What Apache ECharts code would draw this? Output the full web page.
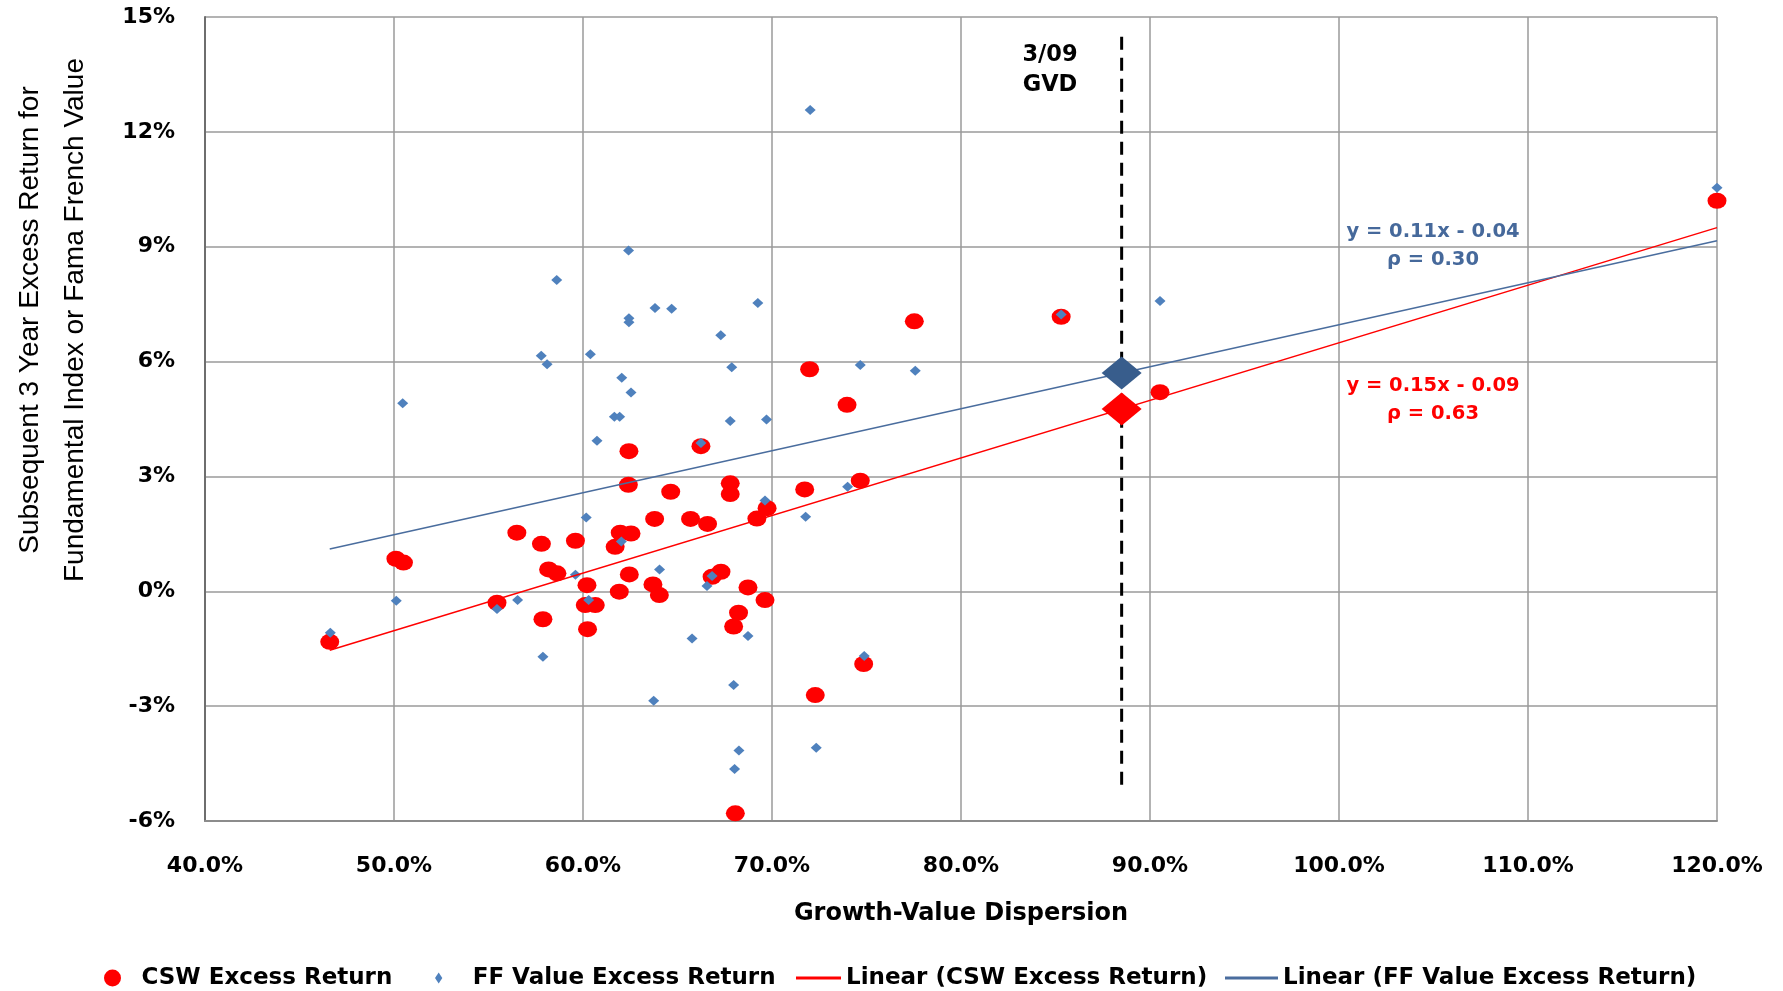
<!DOCTYPE html>
<html>
<head>
<meta charset="utf-8">
<script src="https://cdn.jsdelivr.net/npm/echarts@6/dist/echarts.min.js"></script>
<style>
  html, body { margin: 0; padding: 0; background: #ffffff; }
  #chart { width: 1783px; height: 991px; }
</style>
</head>
<body>
<div id="chart"></div>
<script>
// Growth-value dispersion (%) vs. subsequent 3-year excess return (%)
const cswPoints = [
  [46.6, -1.32], [50.1, 0.85], [50.5, 0.75], [55.45, -0.30], [56.5, 1.53],
  [57.8, 1.24], [57.88, -0.73], [58.18, 0.57], [58.62, 0.47], [59.6, 1.32],
  [60.21, 0.16], [60.12, -0.36], [60.65, -0.36], [60.24, -0.99], [61.7, 1.16],
  [61.97, 1.53], [62.54, 1.51], [61.92, -0.01], [62.45, 0.44], [62.43, 3.66],
  [62.4, 2.78], [63.7, 0.18], [64.04, -0.10], [63.79, 1.89], [64.64, 2.60],
  [65.69, 1.89], [66.24, 3.79], [66.59, 1.76], [66.83, 0.38], [67.30, 0.51],
  [67.79, 2.82], [67.79, 2.54], [68.73, 0.10], [69.63, -0.23], [68.23, -0.56],
  [67.97, -0.92], [68.06, -5.80], [69.2, 1.90], [69.74, 2.17], [71.73, 2.66],
  [71.99, 5.80], [72.29, -2.71], [73.97, 4.87], [74.67, 2.89], [74.85, -1.90],
  [77.53, 7.05], [85.3, 7.17], [90.53, 5.20], [120.0, 10.20]
];

const ffPoints = [
  [46.63, -1.08], [50.12, -0.25], [50.46, 4.91], [55.45, -0.46], [56.54, -0.23],
  [57.88, -1.71], [57.79, 6.15], [58.1, 5.93], [58.61, 8.13], [59.6, 0.43],
  [60.17, 1.93], [60.3, -0.23], [60.39, 6.19], [60.74, 3.93], [61.66, 4.56],
  [61.94, 4.56], [62.05, 5.58], [62.54, 5.19], [62.03, 1.30], [62.41, 8.90],
  [62.43, 7.13], [62.43, 7.03], [63.74, -2.86], [63.81, 7.40], [64.05, 0.57],
  [64.69, 7.38], [65.77, -1.23], [66.24, 3.87], [66.56, 0.14], [66.83, 0.40],
  [67.29, 6.69], [67.87, 5.85], [67.79, 4.45], [67.97, -2.45], [68.25, -4.16],
  [68.02, -4.64], [68.73, -1.17], [69.25, 7.53], [69.71, 4.49], [69.63, 2.37],
  [71.78, 1.95], [72.02, 12.57], [72.34, -4.09], [74.0, 2.73], [74.67, 5.91],
  [74.88, -1.69], [77.58, 5.76], [85.3, 7.23], [90.53, 7.58], [120.0, 10.54]
];

// Least-squares trend lines (percent units): y = slope * x + intercept
const cswFit = { slope: 0.1504, intercept: -8.55 };
const ffFit = { slope: 0.1097, intercept: -4.01 };
const fitRange = [46.6, 120.0];

// March 2009 growth-value dispersion marker
const gvdMarch09 = 88.5;
const gvdLineRange = [-5.05, 14.55];

// Axis ticks
const xAxisTicks = { min: 40, max: 120, interval: 10 };
const yAxisTicks = { min: -6, max: 15, interval: 3 };

const legendNames = [
  'CSW Excess Return',
  'FF Value Excess Return',
  'Linear (CSW Excess Return)',
  'Linear (FF Value Excess Return)'
];

const RED = '#ff0000';
const BLUE = '#4f81bd';
const BLUE_LINE = '#4a6d9e';
const BLUE_DARK = '#385d8c';
const BOLD_FONT = 'DejaVu Sans';

const fitLine = (fit) => fitRange.map(x => [x, fit.slope * x + fit.intercept]);
const fitAt = (fit, x) => fit.slope * x + fit.intercept;

const chart = echarts.init(document.getElementById('chart'), null, { renderer: 'canvas' });

const legendText = { fontFamily: BOLD_FONT, fontWeight: 'bold', fontSize: 23, color: '#000', lineHeight: 26 };
const legendBase = { top: 965, padding: 0, symbolKeepAspect: true, selectedMode: false, textStyle: legendText };

const boldText = (size, color) => ({ fontFamily: BOLD_FONT, fontWeight: 'bold', fontSize: size, fill: color, align: 'center', verticalAlign: 'middle' });

chart.setOption({
  animation: false,
  backgroundColor: '#ffffff',
  grid: { left: 205, right: 66, top: 17, bottom: 170, containLabel: false },
  xAxis: {
    type: 'value',
    min: xAxisTicks.min, max: xAxisTicks.max, interval: xAxisTicks.interval,
    name: 'Growth-Value Dispersion',
    nameLocation: 'middle',
    nameGap: 81,
    nameTextStyle: { fontFamily: BOLD_FONT, fontWeight: 'bold', fontSize: 24, color: '#000' },
    axisLine: { onZero: false, lineStyle: { color: '#8c8c8c', width: 2 } },
    axisTick: { show: false },
    axisLabel: {
      margin: 34, fontFamily: BOLD_FONT, fontWeight: 'bold', fontSize: 22, color: '#000',
      formatter: v => v.toFixed(1) + '%'
    },
    splitLine: { show: true, lineStyle: { color: '#9a9a9a', width: 1.5 } }
  },
  yAxis: {
    type: 'value',
    min: yAxisTicks.min, max: yAxisTicks.max, interval: yAxisTicks.interval,
    axisLine: { show: true, onZero: false, lineStyle: { color: '#6e6e6e', width: 2 } },
    axisTick: { show: false },
    axisLabel: {
      margin: 30, fontFamily: BOLD_FONT, fontWeight: 'bold', fontSize: 22, color: '#000',
      formatter: v => v + '%'
    },
    splitLine: { show: true, lineStyle: { color: '#9a9a9a', width: 1.5 } }
  },
  legend: [
    Object.assign({}, legendBase, {
      left: 104, itemWidth: 48, itemHeight: 17,
      data: [{ name: legendNames[0], icon: 'circle', itemStyle: { color: RED } }]
    }),
    Object.assign({}, legendBase, {
      left: 435, itemWidth: 58, itemHeight: 11,
      data: [{ name: legendNames[1], icon: 'path://M4,0L8,6L4,12L0,6Z', itemStyle: { color: BLUE } }]
    }),
    Object.assign({}, legendBase, {
      left: 796, itemWidth: 45, itemHeight: 3,
      data: [{ name: legendNames[2], icon: 'rect', itemStyle: { color: RED } }]
    }),
    Object.assign({}, legendBase, {
      left: 1225, itemWidth: 53, itemHeight: 3,
      data: [{ name: legendNames[3], icon: 'rect', itemStyle: { color: BLUE_LINE } }]
    })
  ],
  series: [
    {
      name: legendNames[0], type: 'scatter', data: cswPoints,
      symbol: 'circle', symbolSize: [19, 16],
      itemStyle: { color: RED, opacity: 1 }, z: 2
    },
    {
      name: legendNames[1], type: 'scatter', data: ffPoints,
      symbol: 'diamond', symbolSize: [11, 10],
      itemStyle: { color: BLUE, opacity: 1 }, z: 3
    },
    {
      name: legendNames[2], type: 'line', data: fitLine(cswFit),
      showSymbol: false, symbol: 'none',
      itemStyle: { color: RED }, lineStyle: { color: RED, width: 1.5 }, z: 4
    },
    {
      name: legendNames[3], type: 'line', data: fitLine(ffFit),
      showSymbol: false, symbol: 'none',
      itemStyle: { color: BLUE_LINE }, lineStyle: { color: BLUE_LINE, width: 1.5 }, z: 4
    },
    {
      name: '3/09 GVD', type: 'line',
      data: gvdLineRange.map(y => [gvdMarch09, y]),
      showSymbol: false, symbol: 'none',
      lineStyle: { color: '#000', width: 3, type: [13, 8] }, z: 5
    },
    {
      name: '3/09 estimate', type: 'scatter',
      data: [
        { value: [gvdMarch09, fitAt(ffFit, gvdMarch09)], itemStyle: { color: BLUE_DARK, opacity: 1 } },
        { value: [gvdMarch09, fitAt(cswFit, gvdMarch09)], itemStyle: { color: RED, opacity: 1 } }
      ],
      symbol: 'diamond', symbolSize: [40, 33], z: 6
    }
  ],
  graphic: [
    {
      type: 'text', x: 30, y: 320, rotation: Math.PI / 2,
      style: { text: 'Subsequent 3 Year Excess Return for', fontFamily: 'Liberation Sans', fontSize: 28, fill: '#000', align: 'center', verticalAlign: 'middle' }
    },
    {
      type: 'text', x: 75, y: 320, rotation: Math.PI / 2,
      style: { text: 'Fundamental Index or Fama French Value', fontFamily: 'Liberation Sans', fontSize: 28, fill: '#000', align: 'center', verticalAlign: 'middle' }
    },
    { type: 'text', x: 1050, y: 55, style: Object.assign({ text: '3/09' }, boldText(22.5, '#000')) },
    { type: 'text', x: 1050, y: 85, style: Object.assign({ text: 'GVD' }, boldText(22.5, '#000')) },
    { type: 'text', x: 1433, y: 232, style: Object.assign({ text: 'y = 0.11x - 0.04' }, boldText(19.5, '#46699b')) },
    { type: 'text', x: 1433, y: 260, style: Object.assign({ text: 'ρ = 0.30' }, boldText(19.5, '#46699b')) },
    { type: 'text', x: 1433, y: 386, style: Object.assign({ text: 'y = 0.15x - 0.09' }, boldText(19.5, RED)) },
    { type: 'text', x: 1433, y: 414, style: Object.assign({ text: 'ρ = 0.63' }, boldText(19.5, RED)) }
  ]
});
</script>
</body>
</html>
